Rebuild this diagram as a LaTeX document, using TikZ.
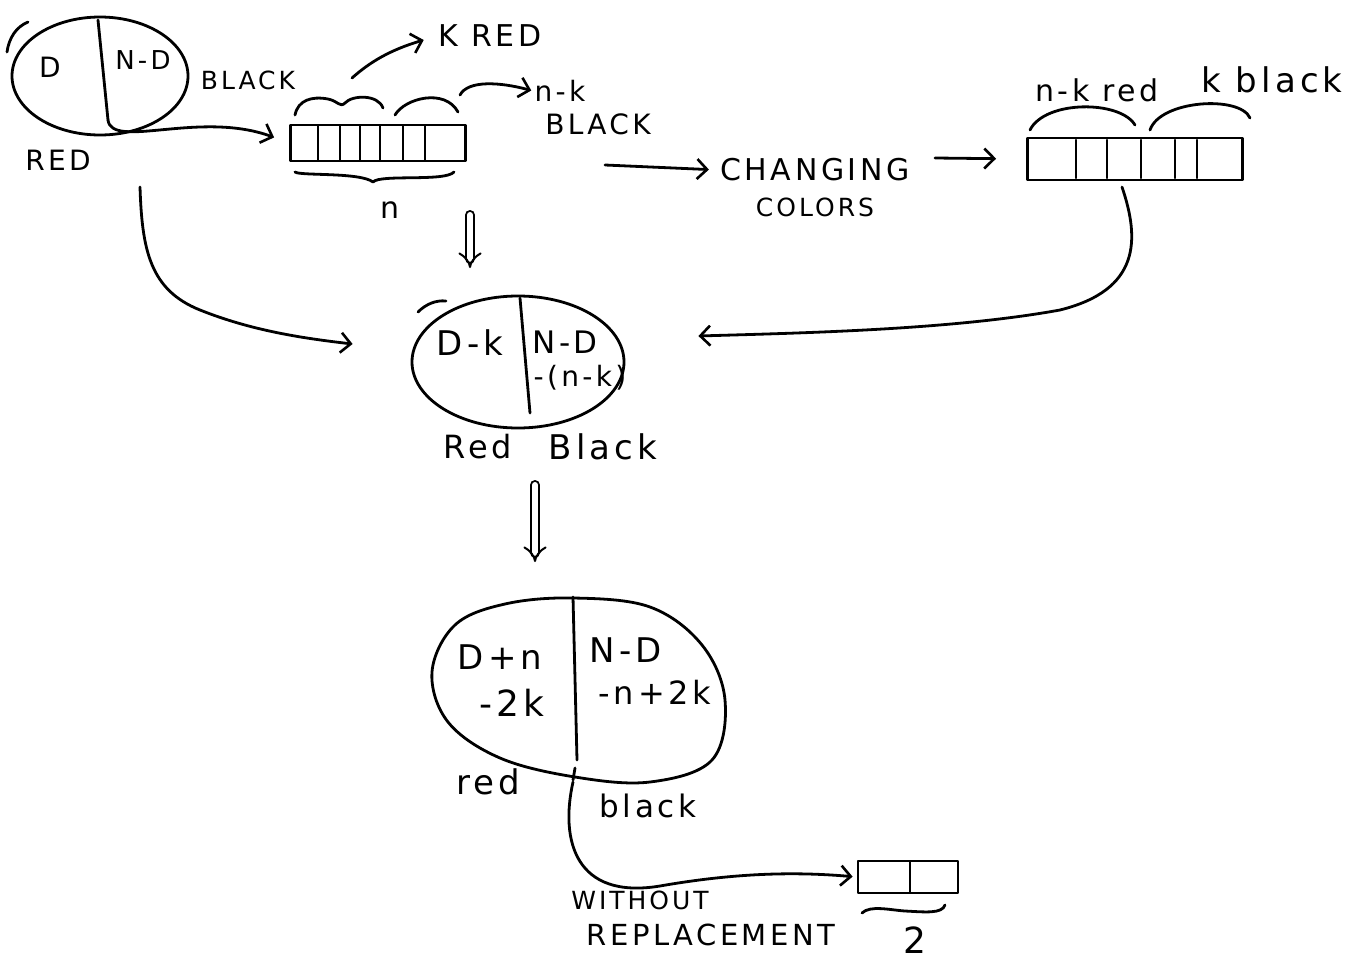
\documentclass[tikz,border=0pt]{standalone}
\usepackage{fontspec}
\newfontfamily\hand[LetterSpace=12]{DejaVu Sans}
\usetikzlibrary{arrows.meta,shapes.geometric,calc}
\begin{document}
\begin{tikzpicture}[x=1pt,y=-1pt,line width=2.8pt,line cap=round,line join=round,
  every node/.style={inner sep=0pt,font=\hand\fontsize{26}{30}\selectfont},
  fs/.style={font=\hand\fontsize{#1}{#1}\selectfont},
  urnshape/.style={draw,ellipse,inner sep=0pt},
  arraybox/.style={draw,rectangle,inner sep=0pt},
  arr/.style={-{Straight Barb[length=10pt,width=20pt,line width=2.6pt]}},
  dbl/.style={double,double distance=6pt,line width=2pt,-{Implies[length=11pt]}}]
\useasboundingbox (0,0) rectangle (1358,964);

% ---------- top-left urn ----------
\node[urnshape,minimum width=176pt,minimum height=118pt] (u1) at (100,76) {};
\draw (7,52) .. controls (9,38) and (16,27) .. (28,22);
\draw (98,20) -- (104,80) -- (108,120);
\node[fs=28] (u1d) at (50,67) {D};
\node[fs=26] (u1nd) at (143,60) {N-D};
\node[fs=25] (u1black) at (248,80) {BLACK};
\node[fs=28] (u1red) at (58,160) {RED};
\coordinate (u1out) at (108,120);
\coordinate (u1down) at (140,187);

% ---------- top array ----------
\node[arraybox,minimum width=175pt,minimum height=36pt] (a1) at (378,143) {};
\foreach \x in {318,340,360,380,403,425} \draw (\x,126) -- (\x,160);
\draw[arr,shorten >=16pt] (u1out) .. controls (112,150) and (200,110) .. (a1.west);
% braces above
\draw (295,115) .. controls (298,100) and (312,96) .. (328,99)
      .. controls (338,101) and (340,108) .. (345,103)
      .. controls (352,95) and (378,94) .. (383,108);
\draw (395,115) .. controls (405,98) and (445,88) .. (458,112);
\coordinate (kst) at (352,78);
\node[fs=30] (kred) at (490,36) {K RED};
\draw[arr,shorten >=14pt] (kst) .. controls (370,62) and (390,50) .. (kred.west);
\coordinate (nkst) at (460,95);
\node[fs=28] (nk) at (560,91) {n-k};
\node[fs=28] (nkblack) at (598,124) {BLACK};
\draw[arr,shorten >=2pt] (nkst) .. controls (468,80) and (500,82) .. (nk.west);
% brace below
\draw (295,172) .. controls (300,176) and (360,172) .. (373,182)
      .. controls (380,174) and (445,182) .. (454,172);
\node[fs=30] (a1n) at (390,210) {n};

% ---------- changing colors ----------
\node[fs=30] (chg) at (815,170) {CHANGING};
\node[fs=25] (col) at (815,207) {COLORS};
\coordinate (chgin) at (605,165);
\draw[arr,shorten >=10pt] (chgin) -- (chg.west);

% ---------- right array ----------
\node[arraybox,minimum width=215pt,minimum height=42pt] (a2) at (1135,159) {};
\foreach \x in {1076,1107,1141,1175,1197} \draw (\x,140) -- (\x,178);
\coordinate (chgout) at (935,158);
\draw[arr,shorten >=30pt] (chgout) -- (a2.west);
\draw (1030,130) .. controls (1045,100) and (1120,100) .. (1135,125);
\draw (1150,130) .. controls (1160,100) and (1240,95) .. (1250,118);
\node[fs=30] (nkred) at (1097,90) {n-k red};
\node[fs=34] (kblack) at (1272,80) {k black};

% ---------- middle urn ----------
\node[urnshape,minimum width=212pt,minimum height=132pt] (u2) at (518,362) {};
\draw (418,312) .. controls (426,304) and (436,300) .. (446,301);
\draw (520,298) -- (530,413);
\node[fs=34] (u2l) at (470,343) {D-k};
\node[fs=31] (u2r) at (565,342) {N-D};
\node[fs=28] (u2r2) at (580,378) {-(n-k)};
\node[fs=32] (u2red) at (478,447) {Red};
\node[fs=34] (u2black) at (603,447) {Black};

\coordinate (d1a) at (470,215);
\coordinate (d1b) at (470,268);
\draw[dbl] (d1a) -- (d1b);

\draw[arr] (u1down) .. controls (142,250) and (150,290) .. (200,310)
      .. controls (250,330) and (300,338) .. ($(u2.west)+(-58,-18)$);
\coordinate (a2out) at (1122,187);
\draw[arr] (a2out) .. controls (1140,240) and (1140,290) .. (1060,310)
      .. controls (950,330) and (800,333) .. ($(u2.east)+(73,-26)$);

% ---------- bottom urn ----------
\coordinate (d2a) at (535,485);
\coordinate (d2b) at (535,562);
\draw[dbl] (d2a) -- (d2b);
\coordinate (u3) at (575,690);
\draw plot[smooth cycle,tension=0.6] coordinates {
  (573,598) (650,607) (702,645) (725,700) (712,760) (650,782) (575,777)
  (500,758) (448,722) (432,672) (455,625) (505,604)};
\draw (573,597) -- (577,760);
\draw (575,768) -- (573,780);
\node[fs=34] (u3l) at (500,657) {D+n};
\node[fs=36] (u3l2) at (512,703) {-2k};
\node[fs=34] (u3r) at (626,650) {N-D};
\node[fs=32] (u3r2) at (655,692) {-n+2k};
\node[fs=34] (u3red) at (488,782) {red};
\node[fs=31] (u3black) at (648,806) {black};

% ---------- small box ----------
\node[arraybox,minimum width=100pt,minimum height=32pt] (b) at (908,877) {};
\draw (910,862) -- (910,892);
\coordinate (u3out) at (573,782);
\draw[arr,shorten >=4pt] (u3out) .. controls (560,840) and (575,900) .. (660,886)
      .. controls (740,872) and (800,872) .. (b.west);
\draw (862,913) .. controls (870,905) and (890,910) .. (905,911)
      .. controls (925,912) and (942,914) .. (945,905);
\node[fs=36] (two) at (915,940) {2};
\node[fs=25] (wo) at (640,900) {WITHOUT};
\node[fs=29] (rep) at (711,935) {REPLACEMENT};
\end{tikzpicture}
\end{document}
